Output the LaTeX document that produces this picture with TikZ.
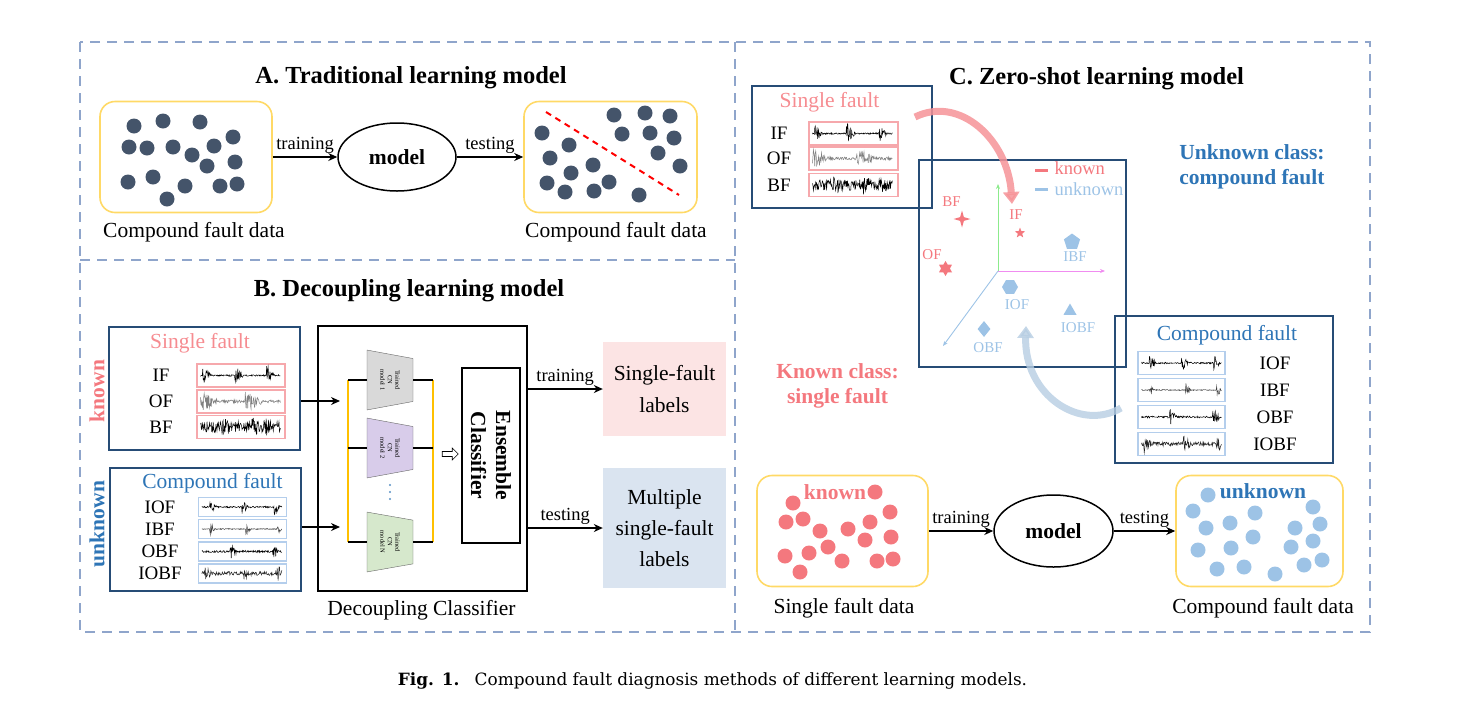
\documentclass[tikz,border=0pt]{standalone}
\usepackage{fontspec}
\setmainfont{Liberation Serif}
\newfontfamily\capfont{DejaVu Serif}
\usetikzlibrary{shapes.geometric,shapes.arrows,arrows.meta,positioning}

\definecolor{frameC}{RGB}{143,165,203}
\definecolor{slateC}{RGB}{68,84,106}
\definecolor{yelC}{RGB}{255,217,102}
\definecolor{pinkC}{RGB}{244,120,126}
\definecolor{blueC}{RGB}{46,117,182}
\definecolor{lblueC}{RGB}{157,195,230}
\definecolor{navyC}{RGB}{38,76,118}
\definecolor{pinkBd}{RGB}{246,168,172}
\definecolor{lblueBd}{RGB}{180,206,236}
\definecolor{pinkFill}{RGB}{252,228,228}
\definecolor{blueFill}{RGB}{218,228,240}
\definecolor{cnGrey}{RGB}{217,217,217}
\definecolor{cnLilac}{RGB}{216,204,234}
\definecolor{cnGreen}{RGB}{214,232,204}
\definecolor{brkC}{RGB}{255,192,0}
\definecolor{axGreen}{RGB}{140,235,140}
\definecolor{axPink}{RGB}{240,140,240}

% waveform in a signal box: box, colour, base, peak, burst1, burst2, burst3, decay
\newcommand{\sigwave}[8]{%
  \begin{scope}[shift={(#1.west)}]
    \draw[#2, line width=0.5pt] plot[domain=4:84, samples=170, variable=\t]
      (\t, {(#3+#4*((\t>#5)*max(0,1-(\t-#5)/#8)+(\t>#6)*max(0,1-(\t-#6)/#8)+(\t>#7)*max(0,1-(\t-#7)/#8)))*(2*rnd-1)});
  \end{scope}}

\tikzset{
  dashframe/.style={draw=frameC, line width=2.2pt, dash pattern=on 10pt off 7pt},
  databox/.style={draw=yelC, line width=1.6pt, rounded corners=15pt, minimum height=111pt},
  modelnode/.style={ellipse, draw, line width=1.5pt, minimum width=118pt, minimum height=68pt, font=\fontsize{21.5}{25}\selectfont\bfseries},
  arr/.style={-{Stealth[length=9pt,width=8pt]}, line width=1.3pt},
  arrlbl/.style={font=\fontsize{18.5}{22}\selectfont},
  txt/.style={font=\fontsize{21.5}{25}\selectfont},
  ttl/.style={font=\fontsize{24.5}{29}\selectfont\bfseries},
  rowlbl/.style={font=\fontsize{19}{22}\selectfont},
  faultbox/.style={draw=navyC, line width=1.5pt},
  pinksig/.style={draw=pinkBd, line width=1.2pt, minimum width=88pt, minimum height=23pt, inner sep=0pt},
  bluesig/.style={draw=lblueBd, line width=1.2pt, minimum width=88pt, minimum height=19pt, inner sep=0pt},
  cnnode/.style={trapezium, draw=black!60, line width=0.4pt, rotate=-90, trapezium stretches=true,
    minimum width=60pt, minimum height=46pt, trapezium left angle=78, trapezium right angle=78,
    inner sep=0pt, align=center, font=\fontsize{6.5}{7.5}\selectfont},
  embl/.style={font=\fontsize{15}{18}\selectfont},
  marker/.style={inner sep=0pt, draw=none},
}

\begin{document}
\begin{tikzpicture}[x=1pt,y=-1pt]
\useasboundingbox (0,0) rectangle (1470,702);
\pgfmathsetseed{11}

% frames
\draw[dashframe] (80,42) rectangle (1370,632);
\draw[dashframe] (735,42) -- (735,632);
\draw[dashframe] (80,260) -- (735,260);

% ---------- A
\node[ttl] (titA) at (411,78) {A. Traditional learning model};
\node[databox, minimum width=172pt] (dataA) at (186,157) {};
\node[modelnode] (modA) at (397,157) {model};
\node[databox, minimum width=173pt] (resA) at (610.5,157) {};
\draw[arr] (dataA) -- node[above, arrlbl] (trA) {training} (modA);
\draw[arr] (modA) -- node[above, arrlbl] (teA) {testing} (resA);
\foreach \p in {(134,126),(163,121),(200,122),(233,137),(129,147),(147,148),(173,147),(192,155),(214,146),(235,162),(207,166),(128,182),(153,177),(185,186),(220,186),(237,184),(167,199)}
  \fill[slateC] \p circle[radius=7.5pt];
\foreach \p in {(542,133),(569,145),(550,158),(571,173),(593,165),(547,183),(565,192),(594,191),(609,182),(614,115),(645,113),(670,116),(622,134),(650,133),(674,138),(658,153),(680,166),(639,195)}
  \fill[slateC] \p circle[radius=7.5pt];
\draw[red, line width=2pt, dash pattern=on 6pt off 5pt] (546,112) -- (679,195);
\node[txt] (capA1) at (194,232) {Compound fault data};
\node[txt] (capA2) at (616,232) {Compound fault data};

% ---------- B
\node[ttl] (titB) at (409,291) {B. Decoupling learning model};
\node[faultbox, minimum width=191pt, minimum height=123pt] (sfB) at (204.5,388.5) {};
\node[txt, text=pinkC!85] (sfBt) at (200,343) {Single fault};
\node[txt, text=pinkC, font=\fontsize{21.5}{25}\selectfont\bfseries, rotate=90] (knB) at (97,391) {known};
\foreach \n/\y [count=\i] in {IF/375.5,OF/401.5,BF/427} {
  \node[rowlbl] (lsB\i) at (161,\y) {\n};
  \node[pinksig] (sB\i) at (241,\y) {};
}
\node[faultbox, minimum width=191pt, minimum height=123pt] (cfB) at (205.5,529.5) {};
\node[txt, text=blueC] (cfBt) at (212.5,483) {Compound fault};
\node[txt, text=blueC, font=\fontsize{21.5}{25}\selectfont\bfseries, rotate=90] (unB) at (97,524) {unknown};
\foreach \n/\y [count=\i] in {IOF/507,IBF/529,OBF/551.5,IOBF/573.5} {
  \node[rowlbl] (lcB\i) at (160,\y) {\n};
  \node[bluesig] (cB\i) at (242.5,\y) {};
}
\sigwave{sB1}{black}{0.8}{10}{6}{38}{70}{9}
\sigwave{sB2}{black!50}{1.5}{9}{3}{48}{200}{20}
\sigwave{sB3}{black}{5.5}{4}{25}{55}{68}{10}
\sigwave{cB1}{black}{0.8}{7.5}{12}{44}{76}{7}
\sigwave{cB2}{black!75}{0.5}{7}{12}{48}{79}{5}
\sigwave{cB3}{black}{1}{7}{32}{75}{200}{8}
\sigwave{cB4}{black!85}{2}{6.5}{6}{46}{79}{8}

\node[draw, line width=1.2pt, minimum width=209pt, minimum height=265pt] (dcB) at (422.5,458.5) {};
\node[txt] (dcBt) at (421.5,610) {Decoupling Classifier};
\coordinate (brL) at (348,0);
\coordinate (brR) at (433,0);
\node[cnnode, fill=cnGrey] (cn1) at (390,380) {Trained\\CN\\model 1};
\node[cnnode, fill=cnLilac] (cn2) at (390,448) {Trained\\CN\\model 2};
\node[cnnode, fill=cnGreen] (cnN) at (390,542) {Trained\\CN\\model N};
\draw[brkC, line width=1.5pt] (cn1.south -| brL) -- (cnN.south -| brL);
\draw[brkC, line width=1.5pt] (cn1.north -| brR) -- (cnN.north -| brR);
\foreach \k in {1,2,N} {
  \draw[line width=1.3pt] (cn\k.south -| brL) -- (cn\k.south);
  \draw[line width=1.3pt] (cn\k.north) -- (cn\k.north -| brR);
}
\foreach \y in {485,492,499}
  \fill[blueC!80] (390,\y) circle[radius=1.1pt];
\node[single arrow, draw, line width=0.6pt, minimum height=16pt, minimum width=12pt, single arrow head extend=2.5pt, inner sep=1.5pt] (hol) at (449,454) {};
\node[draw, line width=1.2pt, minimum width=58pt, minimum height=175pt] (ensB) at (491,455.5) {};
\node[font=\fontsize{21.5}{25}\selectfont\bfseries, rotate=-90, align=center] (ensBt) at (ensB) {Ensemble\\Classifier};
\coordinate (inS) at (340,401);
\coordinate (inC) at (340,527);
\draw[arr] (sfB.east |- inS) -- (inS);
\draw[arr] (cfB.east |- inC) -- (inC);
\node[fill=pinkFill, minimum width=123pt, minimum height=94pt, align=center, font=\fontsize{21.5}{32}\selectfont] (labS) at (664.5,389) {Single-fault\\labels};
\node[fill=blueFill, minimum width=123pt, minimum height=120pt, align=center, font=\fontsize{21.5}{31}\selectfont] (labM) at (664.5,528) {Multiple\\single-fault\\labels};
\draw[arr] (dcB.east |- labS) -- node[above, arrlbl] (trB) {training} (labS.west);
\draw[arr] (dcB.east |- labM) -- node[above, arrlbl] (teB) {testing} (labM.west);

% ---------- C
\node[ttl] (titC) at (1096.5,79) {C. Zero-shot learning model};
\node[faultbox, minimum width=180pt, minimum height=122pt] (sfC) at (842,147) {};
\node[txt, text=pinkC!85] (sfCt) at (829.5,102) {Single fault};
\foreach \n/\y [count=\i] in {IF/133.5,OF/158.5,BF/185} {
  \node[rowlbl] (lsC\i) at (779,\y) {\n};
  \node[pinksig, minimum width=89pt] (sC\i) at (853.5,\y) {};
}
\node[faultbox, minimum width=207pt, minimum height=207pt] (emb) at (1022.5,263.5) {};
\node[faultbox, minimum width=218pt, minimum height=147pt] (cfC) at (1224,389.5) {};
\node[txt, text=blueC] (cfCt) at (1227,335) {Compound fault};
\foreach \n/\y [count=\i] in {IOF/363,IBF/390,OBF/417,IOBF/444} {
  \node[rowlbl] (lcC\i) at (1275,\y) {\n};
  \node[bluesig, minimum width=87pt, minimum height=23pt] (cC\i) at (1181.5,\y) {};
}
\sigwave{sC1}{black}{0.8}{10}{6}{38}{70}{9}
\sigwave{sC2}{black!50}{1.5}{9}{3}{48}{200}{20}
\sigwave{sC3}{black}{5.5}{4}{25}{55}{68}{10}
\sigwave{cC1}{black}{0.8}{9}{12}{44}{76}{7}
\sigwave{cC2}{black!75}{0.5}{8.5}{12}{48}{79}{5}
\sigwave{cC3}{black}{1}{8.5}{32}{75}{200}{8}
\sigwave{cC4}{black!85}{2}{8}{6}{46}{79}{8}

% legend
\draw[pinkC, line width=3pt] (1035,170) -- (1048,170);
\node[anchor=west, arrlbl, text=pinkC] (lgK) at (1051,168) {known};
\draw[lblueC, line width=3pt] (1035,189) -- (1048,189);
\node[anchor=west, arrlbl, text=lblueC] (lgU) at (1051,189) {unknown};

% axes
\coordinate (org) at (998,271);
\coordinate (axU) at (998,184);
\coordinate (axR) at (1105,271);
\coordinate (axD) at (943,346);
\draw[axGreen, line width=0.9pt, -{Stealth[length=5pt,width=4pt]}] (org) -- (axU);
\draw[axPink, line width=0.9pt, -{Stealth[length=5pt,width=4pt]}] (org) -- (axR);
\draw[lblueC, line width=0.9pt, -{Stealth[length=5pt,width=4pt]}] (org) -- (axD);

% class points
\node[marker, star, star points=4, star point ratio=3.2, fill=pinkC, minimum size=17pt] (mBF) at (962,219) {};
\node[marker, star, star points=5, star point ratio=2.4, fill=pinkC, minimum size=11pt] (mIF) at (1020,233) {};
\node[marker, star, star points=6, star point ratio=1.7, fill=pinkC, minimum size=15pt] (mOF) at (945.5,268.5) {};
\node[marker, regular polygon, regular polygon sides=5, fill=lblueC, minimum size=17pt] (mIBF) at (1072,242) {};
\node[marker, regular polygon, regular polygon sides=6, fill=lblueC, minimum size=16pt] (mIOF) at (1010,287) {};
\node[marker, regular polygon, regular polygon sides=3, fill=lblueC, minimum size=15pt] (mIOBF) at (1070,311) {};
\node[marker, diamond, fill=lblueC, minimum width=13pt, minimum height=16pt] (mOBF) at (984,329) {};
\node[embl, text=pinkC] (tBF) at (951.5,202) {BF};
\node[embl, text=pinkC] (tIF) at (1016,215) {IF};
\node[embl, text=pinkC] (tOF) at (932,255) {OF};
\node[embl, text=lblueC] (tIBF) at (1075,257) {IBF};
\node[embl, text=lblueC] (tIOF) at (1017,304.5) {IOF};
\node[embl, text=lblueC] (tIOBF) at (1078,327.5) {IOBF};
\node[embl, text=lblueC] (tOBF) at (988,347.5) {OBF};

% curved arrows
\coordinate (pkS) at (915,117);
\coordinate (pkE) at (1012,204);
\draw[pinkC!80, opacity=0.85, line width=7pt, -{Triangle[length=12pt,width=16pt]}] (pkS) .. controls (960,95) and (1008,140) .. (pkE);
\coordinate (blS) at (1121,408);
\coordinate (blE) at (1026,326);
\draw[lblueC!80!navyC!60, opacity=0.8, line width=7pt, -{Triangle[length=12pt,width=16pt]}] (blS) .. controls (1080,432) and (1024,395) .. (blE);

\node[txt, text=blueC, font=\fontsize{21.5}{25}\selectfont\bfseries, align=center] (unkC) at (1252,166.5) {Unknown class:\\compound fault};
\node[txt, text=pinkC, font=\fontsize{21.5}{25}\selectfont\bfseries, align=center] (knC) at (837.5,386) {Known class:\\single fault};

% bottom of C
\node[databox, minimum width=171pt] (dataC) at (842.5,531) {};
\node[modelnode, minimum width=119pt, minimum height=72pt] (modC) at (1053.5,531) {model};
\node[databox, minimum width=167pt] (resC) at (1259.5,531) {};
\draw[arr] (dataC) -- node[above, arrlbl] (trC) {training} (modC);
\draw[arr] (modC) -- node[above, arrlbl] (teC) {testing} (resC);
\foreach \p in {(793,503),(875,492),(890,512),(786,522),(803,519),(820,531),(848,529),(870,522),(865,540),(891,537),(828,547),(785,556),(809,553),(842,561),(877,561),(893,559),(800,572)}
  \fill[pinkC] \p circle[radius=7.5pt];
\foreach \p in {(1208,495),(1193,511),(1255,513),(1313,507),(1206,528),(1230,523),(1320,524),(1295,528),(1253,537),(1313,541),(1198,550),(1231,548),(1291,547),(1217,569),(1244,567),(1275,574),(1304,565),(1322,560)}
  \fill[lblueC] \p circle[radius=7.5pt];
\node[text=pinkC, font=\fontsize{21.5}{25}\selectfont\bfseries] (knD) at (835,492) {known};
\node[text=blueC, font=\fontsize{21.5}{25}\selectfont\bfseries] (unD) at (1263,491) {unknown};
\node[txt] (capC1) at (844,608) {Single fault data};
\node[txt] (capC2) at (1263,608) {Compound fault data};

% caption
\node[font=\capfont\fontsize{16.9}{20}\selectfont] (figcap) at (712.5,681) {\textbf{Fig. 1.}\hspace{8pt} Compound fault diagnosis methods of different learning models.};
\end{tikzpicture}
\end{document}
